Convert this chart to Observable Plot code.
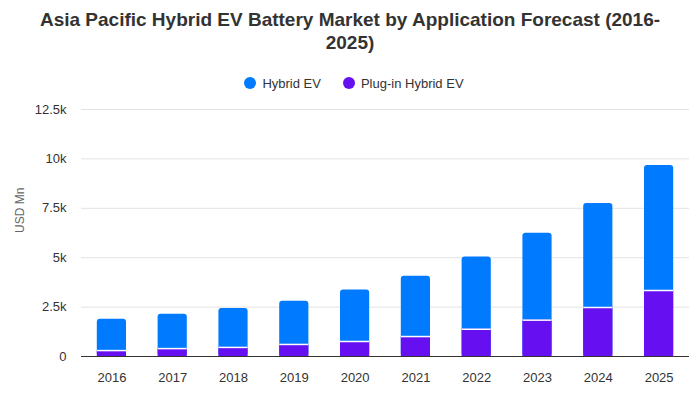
<!DOCTYPE html>
<html><head><meta charset="utf-8">
<script src="https://cdn.jsdelivr.net/npm/d3@7"></script>
<script src="https://cdn.jsdelivr.net/npm/@observablehq/plot@0.6"></script>
<style>
body{margin:0;background:#fff;font-family:"Liberation Sans",Arial,sans-serif;width:700px;height:400px;overflow:hidden}
#title{text-align:center;font-weight:bold;font-size:19px;line-height:23px;color:#333;padding-top:8px;height:52px}
#legend{display:flex;justify-content:center;align-items:center;gap:22px;font-size:13px;color:#333;height:20px;margin-top:13px;padding-left:8px}
#legend span.item{display:flex;align-items:center}
#legend i{display:inline-block;width:12px;height:12px;border-radius:50%;margin-right:6px}
#chart{position:absolute;top:100px;left:0}
</style></head><body>
<div id="title">Asia Pacific Hybrid EV Battery Market by Application Forecast (2016-<br>2025)</div>
<div id="legend"></div>
<div id="chart"></div>
<script>
const years = ["2016","2017","2018","2019","2020","2021","2022","2023","2024","2025"];
const hybridEV = [1590,1740,1970,2190,2600,3050,3650,4400,5260,6330];
const pluginHybridEV = [300,400,460,610,760,1010,1380,1840,2480,3340];
const seriesNames = ["Hybrid EV","Plug-in Hybrid EV"];
const seriesColors = ["#007bff","#6610f2"];
const yTicks = [0,2500,5000,7500,10000,12500];

const legend = document.getElementById("legend");
seriesNames.forEach((n,i)=>{
  const s=document.createElement("span");s.className="item";
  s.innerHTML=`<i style="background:${seriesColors[i]}"></i>${n}`;
  legend.appendChild(s);
});

const rows = years.map((y,i)=>({year:y, hybrid:hybridEV[i], plugin:pluginHybridEV[i], total:hybridEV[i]+pluginHybridEV[i]}));

const chart = Plot.plot({
  width:700, height:300,
  marginTop:9, marginBottom:44, marginLeft:81, marginRight:11,
  style:{fontFamily:"'Liberation Sans', Arial, sans-serif", fontSize:"13px", color:"#333", background:"#fff"},
  x:{domain:years, paddingInner:0.52, paddingOuter:0.26, round:false, label:null, tickSize:0, tickPadding:16},
  y:{domain:[0,12500], ticks:yTicks, label:null, tickSize:0, tickPadding:15,
     tickFormat:d=>d===0?"0":(d/1000)+"k"},
  marks:[
    Plot.gridY(yTicks,{stroke:"#e3e3e3", strokeOpacity:1}),
    Plot.barY(rows,{x:"year", y:"total", fill:seriesColors[0], rx:3}),
    Plot.barY(rows,{x:"year", y:"plugin", fill:seriesColors[1]}),
    Plot.tickY(rows,{x:"year", y:"plugin", stroke:"#fff", strokeWidth:1.5}),
    Plot.ruleY([0],{stroke:"#333", strokeWidth:1}),
    Plot.text(["USD Mn"],{frameAnchor:"left", dx:-61, rotate:-90, fill:"#666", fontSize:12})
  ]
});
document.getElementById("chart").appendChild(chart);
</script>
</body></html>
